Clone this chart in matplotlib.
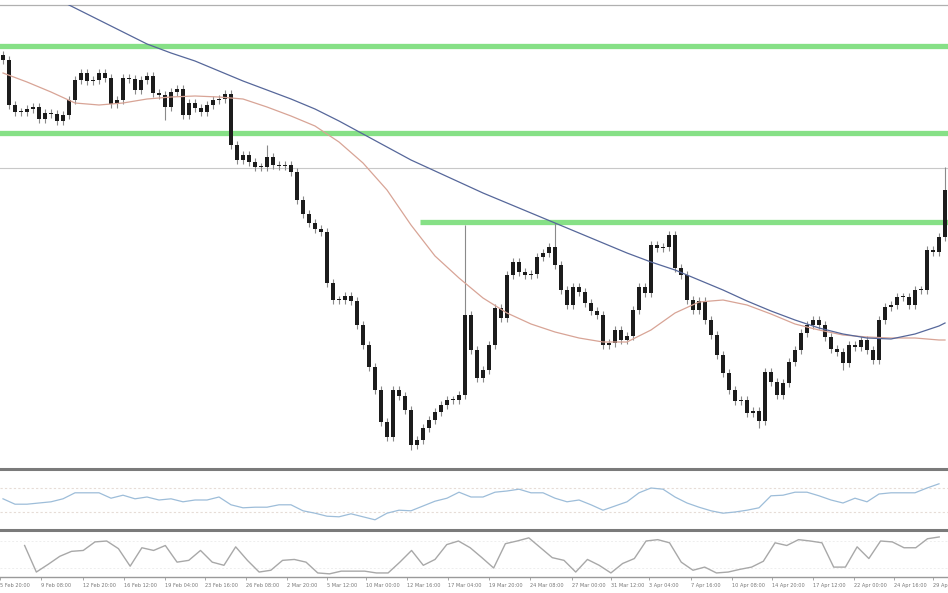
import matplotlib
matplotlib.use('Agg')
import matplotlib.pyplot as plt
import numpy as np
from matplotlib.lines import Line2D

# closes per bar (arbitrary price units), first open separately
first_open = 445
close = [440, 395, 388, 388, 391, 393, 381, 387, 386, 379,
         385, 400, 420, 427, 419, 420, 427, 422, 396, 400,
         422, 421, 410, 420, 424, 407, 405, 393, 408, 411,
         385, 397, 392, 388, 395, 400, 401, 406, 355, 340,
         345, 338, 333, 333, 343, 335, 334, 335, 328, 300,
         286, 277, 271, 268, 217, 200, 200, 204, 199, 175,
         155, 133, 110, 78, 63, 110, 104, 90, 55, 60,
         72, 80, 88, 95, 100, 100, 105, 185, 150, 122,
         130, 155, 192, 182, 225, 238, 228, 225, 226, 243,
         247, 253, 235, 210, 195, 213, 208, 197, 189, 185,
         155, 157, 170, 160, 164, 190, 213, 207, 255, 252,
         253, 265, 232, 225, 200, 190, 199, 180, 165, 145,
         127, 110, 99, 100, 87, 89, 79, 128, 118, 105,
         117, 138, 150, 167, 175, 180, 175, 163, 151, 148,
         137, 155, 153, 160, 150, 140, 180, 193, 195, 203,
         203, 195, 210, 210, 250, 248, 263, 310]
spike_high = {44: 355, 77: 275, 92: 277, 111: 267, 157: 333}
spike_low = {27: 380, 30: 382, 68: 50, 126: 72, 140: 130}

# moving averages sampled every 4 bars
ma_idx = list(range(0, 157, 4)) + [157]
ma_fast = [427, 418, 408, 397, 395, 397, 401, 403, 404, 403,
           401, 393, 384, 374, 358, 337, 310, 275, 244, 222,
           202, 187, 176, 168, 162, 158, 158, 170, 187, 198,
           200, 195, 186, 176, 170, 165, 163, 162, 162, 160, 160]
ma_slow = [528, 516, 504, 492, 480, 468, 456, 447, 439, 429,
           419, 410, 401, 391, 379, 366, 353, 340, 329, 318,
           307, 297, 287, 277, 267, 257, 247, 238, 230, 220,
           210, 199, 189, 180, 172, 166, 162, 161, 166, 174, 177]

green_levels = [454, 367]
green_partial = 278
green_partial_start = 69.5
gray_level = 332

# oscillators, every second bar
osc_idx = list(range(0, 158, 2))
rsi = [52, 43, 43, 45, 47, 52, 62, 62, 62, 53, 58, 52, 55, 50, 52, 47,
       50, 50, 55, 42, 37, 38, 38, 42, 42, 32, 28, 23, 22, 27, 22, 17,
       28, 33, 32, 40, 48, 53, 63, 55, 55, 63, 65, 68, 62, 62, 53, 47,
       50, 42, 33, 40, 47, 62, 70, 68, 55, 45, 38, 32, 28, 30, 33, 37,
       57, 58, 63, 63, 57, 50, 45, 53, 47, 60, 62, 62, 62, 70, 77]
stoch = [70, 11, 28, 46, 57, 59, 78, 80, 63, 24, 65, 59, 70, 33, 37, 59,
         33, 26, 67, 37, 11, 15, 37, 39, 33, 9, 7, 13, 13, 13, 9, 9,
         33, 59, 26, 39, 72, 80, 65, 43, 20, 74, 80, 87, 65, 43, 37, 11,
         39, 26, 9, 30, 41, 80, 83, 76, 33, 15, 22, 9, 11, 17, 22, 35,
         76, 70, 83, 80, 76, 22, 22, 67, 41, 80, 78, 65, 65, 85, 89]

tick_pos = [-4.2, 2.8, 10, 17, 24, 30.8, 37.8, 44.8, 51.5, 58.3, 65.3, 72.3,
            79.2, 86.2, 93.3, 100, 106.5, 113.7, 120.7, 127.5, 134.5, 141.5,
            148.3, 155]
tick_labels = ['5 Feb 20:00', '9 Feb 08:00', '12 Feb 20:00', '16 Feb 12:00',
               '19 Feb 04:00', '23 Feb 16:00', '26 Feb 08:00', '2 Mar 20:00',
               '5 Mar 12:00', '10 Mar 00:00', '12 Mar 16:00', '17 Mar 04:00',
               '19 Mar 20:00', '24 Mar 08:00', '27 Mar 00:00', '31 Mar 12:00',
               '3 Apr 04:00', '7 Apr 16:00', '10 Apr 08:00', '14 Apr 20:00',
               '17 Apr 12:00', '22 Apr 00:00', '24 Apr 16:00', '29 Apr 04:00']

W, H = 948, 593
fig = plt.figure(figsize=(W / 100, H / 100), dpi=100)
fig.patch.set_facecolor('white')


def box(top, bottom):
    return [0, 1 - bottom / H, 1, (bottom - top) / H]


n = len(close)
xlim = (-0.5, n - 0.5)

# main price panel
ax = fig.add_axes(box(5, 467))
ax.set_xlim(*xlim)
ax.set_ylim(33, 495)
for lv in green_levels:
    ax.axhline(lv, color='#86e086', lw=3.8, zorder=1)
ax.hlines(green_partial, green_partial_start, n, color='#86e086', lw=3.8, zorder=1)
ax.axhline(gray_level, color='#c8c8c8', lw=0.8, zorder=1)

c = np.array(close, dtype=float)
o = np.r_[first_open, c[:-1]]
hi = np.maximum(o, c) + 4
lo = np.minimum(o, c) - 4
for k, v in spike_high.items():
    hi[k] = max(hi[k], v)
for k, v in spike_low.items():
    lo[k] = min(lo[k], v)
idx = np.arange(n)
ax.vlines(idx, lo, hi, color='#8a8a8a', lw=0.8, zorder=2)
body = np.maximum(np.abs(c - o), 1.5)
ax.bar(idx, body, bottom=np.minimum(o, c), width=0.7, color='#1c1c1c', zorder=3)

ax.plot(ma_idx, ma_fast, color='#d8a496', lw=0.9, zorder=4)
ax.plot(ma_idx, ma_slow, color='#56679a', lw=0.9, zorder=4)

ax.set_xticks([])
ax.set_yticks([])
for s in ['left', 'right', 'bottom']:
    ax.spines[s].set_visible(False)
ax.spines['top'].set_color('#b0b0b0')
ax.spines['top'].set_linewidth(0.9)

# rsi panel
ax2 = fig.add_axes(box(470, 530))
ax2.set_xlim(*xlim)
ax2.set_ylim(0, 100)
ax2.axhline(70, color='#e6dcd6', lw=0.8, ls=(0, (2, 2)))
ax2.axhline(30, color='#e6dcd6', lw=0.8, ls=(0, (2, 2)))
ax2.plot(osc_idx, rsi, color='#9dbdd9', lw=0.9)
ax2.set_xticks([])
ax2.set_yticks([])
for s in ax2.spines.values():
    s.set_visible(False)

# stochastic panel
ax3 = fig.add_axes(box(532, 577))
ax3.set_xlim(*xlim)
ax3.set_ylim(0, 100)
ax3.axhline(80, color='#eeeeee', lw=0.7, ls=(0, (2, 2)))
ax3.axhline(20, color='#eeeeee', lw=0.7, ls=(0, (2, 2)))
ax3.plot(osc_idx, stoch, color='#a8a8a8', lw=1.0)
ax3.set_yticks([])
for s in ['left', 'right', 'top']:
    ax3.spines[s].set_visible(False)
ax3.spines['bottom'].set_color('#9a9a9a')
ax3.spines['bottom'].set_linewidth(1.0)
ax3.set_xticks(tick_pos)
ax3.set_xticklabels(tick_labels, fontsize=3.6, color='#777777', ha='left')
ax3.tick_params(axis='x', length=2.5, width=0.6, color='#999999', pad=2)

# panel separators
for yp in [469, 530]:
    fig.add_artist(Line2D([0, 1], [1 - yp / H, 1 - yp / H], color='#7a7a7a', lw=2.2))

fig.savefig('out.png', dpi=100)
